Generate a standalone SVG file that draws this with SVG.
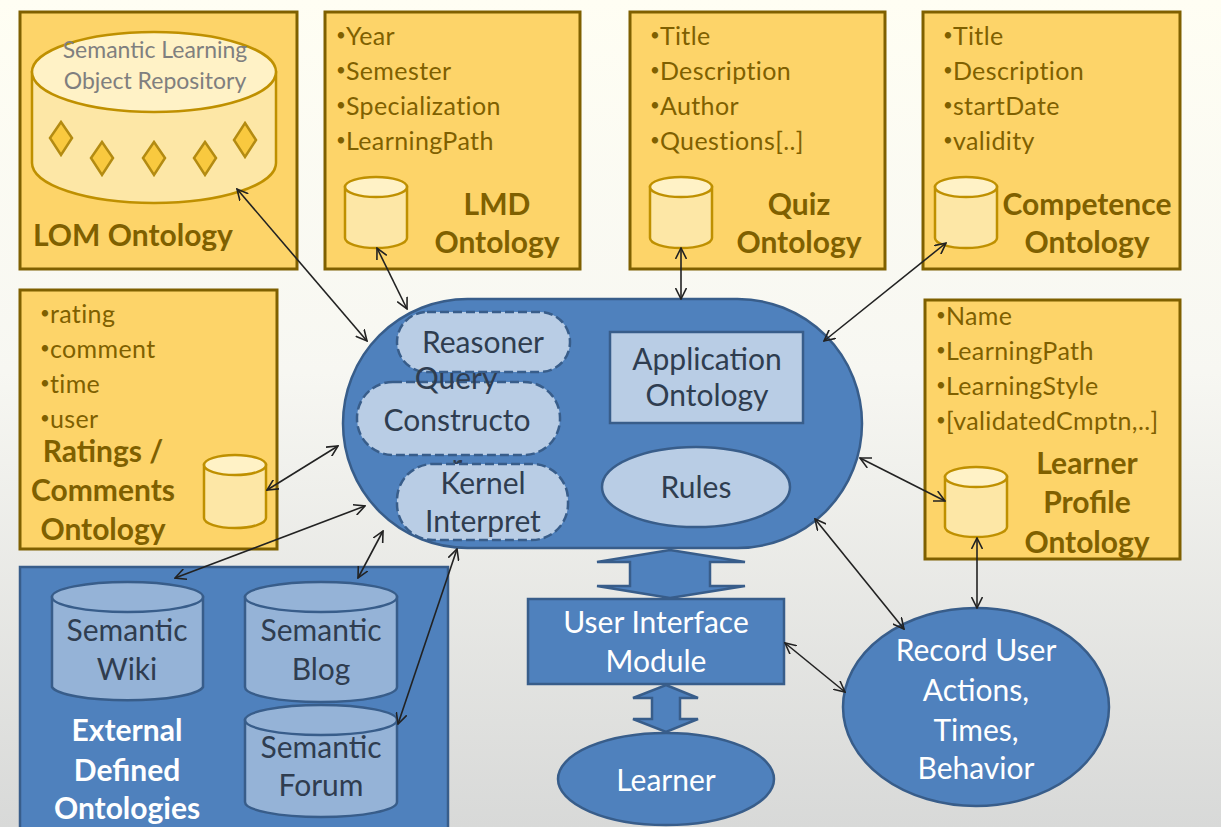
<svg xmlns="http://www.w3.org/2000/svg" width="1221" height="827" viewBox="0 0 1221 827">
<defs>
<linearGradient id="bg" x1="0" y1="0" x2="0" y2="1">
<stop offset="0" stop-color="#fffef3"/>
<stop offset="0.45" stop-color="#f7f7f2"/>
<stop offset="1" stop-color="#d8d9d8"/>
</linearGradient>
<marker id="ah" viewBox="0 0 12 12" refX="11" refY="6" markerWidth="12" markerHeight="12" markerUnits="userSpaceOnUse" orient="auto-start-reverse">
<path d="M0,0.5 L11,6 L0,11.5" fill="none" stroke="#222" stroke-width="1.6"/>
</marker>
<style>
.gbox{fill:#fdd469;stroke:#7f6000;stroke-width:3}
.gcyl{fill:#fde7a6;stroke:#bf9000;stroke-width:2.5}
.gtop{fill:#fff2c6;stroke:#bf9000;stroke-width:2.5}
.bul{font-family:Lato,"Liberation Sans",sans-serif;font-size:25px;letter-spacing:0.4px;fill:#7f6000}
.b{font-size:17px;letter-spacing:0}
.gl{font-family:Lato,"Liberation Sans",sans-serif;font-size:30px;font-weight:bold;fill:#7f6000;text-anchor:middle}
.blue{fill:#4f81bd;stroke:#385d8a;stroke-width:2.5}
.lb{fill:#b9cde5;stroke:#385d8a;stroke-width:2.5}
.dash{fill:#b9cde5;stroke:#385d8a;stroke-width:2.5;stroke-dasharray:9 4}
.bcyl{fill:#95b3d7;stroke:#385d8a;stroke-width:2.5}
.dt{font-family:Lato,"Liberation Sans",sans-serif;font-size:30px;fill:#2f3d50;text-anchor:middle}
.wt{font-family:Lato,"Liberation Sans",sans-serif;font-size:30px;fill:#ffffff;text-anchor:middle}
.wb{font-family:Lato,"Liberation Sans",sans-serif;font-size:30px;font-weight:bold;fill:#ffffff;text-anchor:middle}
.con{fill:none;stroke:#222;stroke-width:1.6;marker-start:url(#ah);marker-end:url(#ah)}
.dia{fill:#f9c93f;stroke:#b38b12;stroke-width:2.5}
</style>
</defs>
<rect x="0" y="0" width="1221" height="827" fill="url(#bg)"/>

<g id="lom">
<rect class="gbox" x="20" y="12" width="277" height="257"/>
<path class="gcyl" d="M32,72 L32,163 A122,40 0 0 0 276,163 L276,72 Z"/>
<ellipse class="gtop" cx="154" cy="72" rx="122" ry="40"/>
<text x="155" y="58" font-family="Lato,'Liberation Sans',sans-serif" font-size="23" fill="#7f7f7f" text-anchor="middle">Semantic Learning</text>
<text x="155" y="89" font-family="Lato,'Liberation Sans',sans-serif" font-size="23" fill="#7f7f7f" text-anchor="middle">Object Repository</text>
<path class="dia" d="M61,122 L72,138 L61,155 L50,138 Z"/>
<path class="dia" d="M102,142 L113,158 L102,175 L91,158 Z"/>
<path class="dia" d="M154,142 L165,158 L154,175 L143,158 Z"/>
<path class="dia" d="M205,142 L216,158 L205,175 L194,158 Z"/>
<path class="dia" d="M245,123 L256,140 L245,157 L234,140 Z"/>
<text class="gl" x="133" y="246">LOM Ontology</text>
</g>

<g id="lmd">
<rect class="gbox" x="325" y="12" width="255" height="257"/>
<text class="bul" x="336" y="45"><tspan class="b" dy="-4">•</tspan><tspan dy="4">Year</tspan></text>
<text class="bul" x="336" y="80"><tspan class="b" dy="-4">•</tspan><tspan dy="4">Semester</tspan></text>
<text class="bul" x="336" y="115"><tspan class="b" dy="-4">•</tspan><tspan dy="4">Specialization</tspan></text>
<text class="bul" x="336" y="150"><tspan class="b" dy="-4">•</tspan><tspan dy="4">LearningPath</tspan></text>
<path class="gcyl" d="M345,187 L345,238 A31,10 0 0 0 407,238 L407,187 Z"/>
<ellipse class="gtop" cx="376" cy="187" rx="31" ry="10"/>
<text class="gl" x="497" y="215">LMD</text>
<text class="gl" x="497" y="253">Ontology</text>
</g>

<g id="quiz">
<rect class="gbox" x="630" y="12" width="255" height="257"/>
<text class="bul" x="650" y="45"><tspan class="b" dy="-4">•</tspan><tspan dy="4">Title</tspan></text>
<text class="bul" x="650" y="80"><tspan class="b" dy="-4">•</tspan><tspan dy="4">Description</tspan></text>
<text class="bul" x="650" y="115"><tspan class="b" dy="-4">•</tspan><tspan dy="4">Author</tspan></text>
<text class="bul" x="650" y="150"><tspan class="b" dy="-4">•</tspan><tspan dy="4">Questions[..]</tspan></text>
<path class="gcyl" d="M650,187 L650,238 A31,10 0 0 0 712,238 L712,187 Z"/>
<ellipse class="gtop" cx="681" cy="187" rx="31" ry="10"/>
<text class="gl" x="799" y="215">Quiz</text>
<text class="gl" x="799" y="253">Ontology</text>
</g>

<g id="competence">
<rect class="gbox" x="923" y="12" width="257" height="257"/>
<text class="bul" x="943" y="45"><tspan class="b" dy="-4">•</tspan><tspan dy="4">Title</tspan></text>
<text class="bul" x="943" y="80"><tspan class="b" dy="-4">•</tspan><tspan dy="4">Description</tspan></text>
<text class="bul" x="943" y="115"><tspan class="b" dy="-4">•</tspan><tspan dy="4">startDate</tspan></text>
<text class="bul" x="943" y="150"><tspan class="b" dy="-4">•</tspan><tspan dy="4">validity</tspan></text>
<path class="gcyl" d="M935,187 L935,238 A31,10 0 0 0 997,238 L997,187 Z"/>
<ellipse class="gtop" cx="966" cy="187" rx="31" ry="10"/>
<text class="gl" x="1087" y="215">Competence</text>
<text class="gl" x="1087" y="253">Ontology</text>
</g>

<g id="ratings">
<rect class="gbox" x="20" y="290" width="257" height="259"/>
<text class="bul" x="40" y="323"><tspan class="b" dy="-4">•</tspan><tspan dy="4">rating</tspan></text>
<text class="bul" x="40" y="358"><tspan class="b" dy="-4">•</tspan><tspan dy="4">comment</tspan></text>
<text class="bul" x="40" y="393"><tspan class="b" dy="-4">•</tspan><tspan dy="4">time</tspan></text>
<text class="bul" x="40" y="428"><tspan class="b" dy="-4">•</tspan><tspan dy="4">user</tspan></text>
<path class="gcyl" d="M204,465 L204,518 A31,10 0 0 0 266,518 L266,465 Z"/>
<ellipse class="gtop" cx="235" cy="465" rx="31" ry="10"/>
<text class="gl" x="103" y="462">Ratings /</text>
<text class="gl" x="103" y="501">Comments</text>
<text class="gl" x="103" y="540">Ontology</text>
</g>

<g id="learnerprofile">
<rect class="gbox" x="925" y="300" width="255" height="259"/>
<text class="bul" x="936" y="325"><tspan class="b" dy="-4">•</tspan><tspan dy="4">Name</tspan></text>
<text class="bul" x="936" y="360"><tspan class="b" dy="-4">•</tspan><tspan dy="4">LearningPath</tspan></text>
<text class="bul" x="936" y="395"><tspan class="b" dy="-4">•</tspan><tspan dy="4">LearningStyle</tspan></text>
<text class="bul" x="936" y="430"><tspan class="b" dy="-4">•</tspan><tspan dy="4">[validatedCmptn,..]</tspan></text>
<path class="gcyl" d="M945,477 L945,527 A31,10 0 0 0 1007,527 L1007,477 Z"/>
<ellipse class="gtop" cx="976" cy="477" rx="31" ry="10"/>
<text class="gl" x="1087" y="474">Learner</text>
<text class="gl" x="1087" y="513">Profile</text>
<text class="gl" x="1087" y="553">Ontology</text>
</g>

<g id="core">
<rect class="blue" x="343" y="299" width="519" height="249" rx="124.5" ry="124.5"/>
<rect class="dash" x="397" y="312" width="173" height="60" rx="30" ry="30"/>
<text class="dt" x="483" y="353">Reasoner</text>
<rect class="dash" x="357" y="382" width="203" height="73" rx="36" ry="36"/>
<text class="dt" x="456" y="389">Query</text>
<text class="dt" x="457" y="431">Constructo</text>
<text class="dt" x="457" y="476">r</text>
<rect class="dash" x="397" y="464" width="171" height="76" rx="36" ry="36"/>
<text class="dt" x="483" y="494">Kernel</text>
<text class="dt" x="483" y="532">Interpret</text>
<rect class="lb" x="610" y="332" width="193" height="91"/>
<text class="dt" x="707" y="370">Application</text>
<text class="dt" x="707" y="406">Ontology</text>
<ellipse class="lb" cx="696" cy="487" rx="94" ry="40"/>
<text class="dt" x="696" y="498">Rules</text>
</g>

<g id="external">
<rect class="blue" x="20" y="567" width="428" height="265"/>
<path class="bcyl" d="M52,597 L52,687 A76,15 0 0 0 203,687 L203,597 Z"/>
<ellipse class="bcyl" cx="127.5" cy="597" rx="75.5" ry="15"/>
<text class="dt" x="127" y="641">Semantic</text>
<text class="dt" x="127" y="680">Wiki</text>
<path class="bcyl" d="M245,597 L245,687 A76,15 0 0 0 397,687 L397,597 Z"/>
<ellipse class="bcyl" cx="321" cy="597" rx="76" ry="15"/>
<text class="dt" x="321" y="641">Semantic</text>
<text class="dt" x="321" y="680">Blog</text>
<path class="bcyl" d="M245,720 L245,802 A76,15 0 0 0 397,802 L397,720 Z"/>
<ellipse class="bcyl" cx="321" cy="720" rx="76" ry="15"/>
<text class="dt" x="321" y="758">Semantic</text>
<text class="dt" x="321" y="796">Forum</text>
<text class="wb" x="127" y="741">External</text>
<text class="wb" x="127" y="781">Defined</text>
<text class="wb" x="127" y="819">Ontologies</text>
</g>

<g id="ui">
<path class="blue" d="M670,550 L745,562 L710,562 L710,586 L745,586 L670,598 L597,586 L630,586 L630,562 L597,562 Z"/>
<rect class="blue" x="528" y="599" width="256" height="85"/>
<text class="wt" x="656" y="633">User Interface</text>
<text class="wt" x="656" y="672">Module</text>
<path class="blue" d="M666,685 L698,698 L680,698 L680,719 L698,719 L666,732 L633,719 L652,719 L652,698 L633,698 Z"/>
</g>

<g id="learner">
<ellipse class="blue" cx="666" cy="779" rx="108" ry="46"/>
<text class="wt" x="666" y="791">Learner</text>
</g>

<g id="record">
<ellipse class="blue" cx="976" cy="707" rx="133" ry="99"/>
<text class="wt" x="976" y="661">Record User</text>
<text class="wt" x="976" y="701">Actions,</text>
<text class="wt" x="976" y="741">Times,</text>
<text class="wt" x="976" y="779">Behavior</text>
</g>

<g id="connectors">
<line class="con" x1="237" y1="189" x2="367" y2="341"/>
<line class="con" x1="377" y1="248" x2="407" y2="309"/>
<line class="con" x1="681" y1="248" x2="681" y2="299"/>
<line class="con" x1="946" y1="243" x2="824" y2="341"/>
<line class="con" x1="267" y1="490" x2="338" y2="446"/>
<line class="con" x1="175" y1="578" x2="365" y2="506"/>
<line class="con" x1="358" y1="578" x2="383" y2="531"/>
<line class="con" x1="398" y1="724" x2="457" y2="549"/>
<line class="con" x1="945" y1="501" x2="860" y2="458"/>
<line class="con" x1="815" y1="519" x2="904" y2="629"/>
<line class="con" x1="977" y1="538" x2="977" y2="608"/>
<line class="con" x1="785" y1="643" x2="845" y2="692"/>
</g>
</svg>
